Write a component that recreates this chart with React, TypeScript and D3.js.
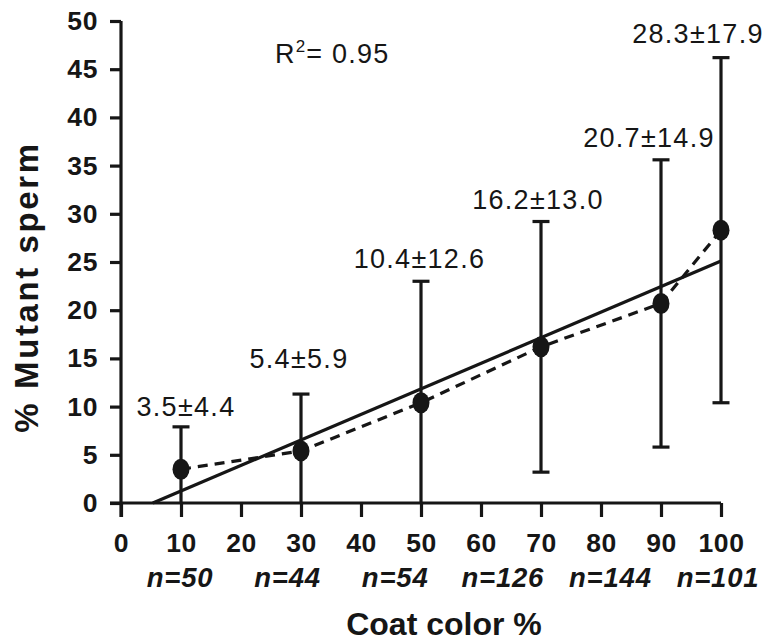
import React, { useEffect, useRef } from 'react'
import * as d3 from 'd3'

// values
const coatColor = [10, 30, 50, 70, 90, 100]
const meanSperm = [3.5, 5.4, 10.4, 16.2, 20.7, 28.3]
const sdSperm = [4.4, 5.9, 12.6, 13.0, 14.9, 17.9]
const groupN = ['n=50', 'n=44', 'n=54', 'n=126', 'n=144', 'n=101']
// linear fit drawn in the figure (start / end points)
const fitX = [5.3, 100]
const fitY = [0, 25.1]
const rSquared = '0.95'

const xTicks = d3.range(0, 101, 10)
const yTicks = d3.range(0, 51, 5)

// label placement tweaks (px): horizontal shift, gap above the upper cap
const labelDx = [5, -2, -1.5, -3, -12, -23]
const labelGap = [11, 26, 13, 13, 13, 15]

const W = 771
const H = 644
const ink = '#161616'
const font = '"Liberation Sans", Arial, Helvetica, sans-serif'

export default function App() {
  const ref = useRef<SVGSVGElement>(null)

  useEffect(() => {
    const svg = d3.select(ref.current)
    svg.selectAll('*').remove()

    const x = d3.scaleLinear().domain([0, 100]).range([121, 721])
    const y = d3.scaleLinear().domain([0, 50]).range([503, 21])
    const nPos = d3.scalePoint<string>().domain(groupN).range([180, 718])

    const g = svg.append('g').attr('font-family', font).attr('fill', ink)

    // axes
    const yAxis = g
      .append('g')
      .attr('transform', `translate(${x(0)},0)`)
      .call(d3.axisLeft(y).tickValues(yTicks).tickSize(11).tickSizeOuter(0).tickPadding(12))
    const xAxis = g
      .append('g')
      .attr('transform', `translate(0,${y(0)})`)
      .call(d3.axisBottom(x).tickValues(xTicks).tickSize(14).tickSizeOuter(0).tickPadding(16))
    ;[yAxis, xAxis].forEach((a) => {
      a.attr('font-family', font)
      a.selectAll('path, line').attr('stroke', ink).attr('stroke-width', 3.2)
      a.selectAll('text')
        .attr('fill', ink)
        .attr('font-size', 26.5)
        .attr('font-weight', 'bold')
        .attr('letter-spacing', 0.6)
    })
    yAxis.select('.domain').attr('d', `M0,${y(50)}V${y(0) + 14}`)
    xAxis.select('.domain').attr('d', `M${x(0) - 11},0H${x(100)}`)

    // n labels
    g.append('g')
      .selectAll('text')
      .data(groupN)
      .join('text')
      .attr('x', (d) => nPos(d)!)
      .attr('y', 587)
      .attr('text-anchor', 'middle')
      .attr('font-size', 27.5)
      .attr('font-weight', 'bold')
      .attr('font-style', 'italic')
      .attr('letter-spacing', 0.8)
      .text((d) => d)

    // axis titles
    g.append('text')
      .attr('x', 444)
      .attr('y', 635)
      .attr('text-anchor', 'middle')
      .attr('font-size', 32)
      .attr('font-weight', 'bold')
      .text('Coat color %')
    g.append('text')
      .attr('transform', `translate(38,287) rotate(-90)`)
      .attr('text-anchor', 'middle')
      .attr('font-size', 33)
      .attr('font-weight', 'bold')
      .attr('letter-spacing', 2.6)
      .text('% Mutant sperm')

    // fit line
    g.append('line')
      .attr('x1', x(fitX[0]))
      .attr('y1', y(fitY[0]))
      .attr('x2', x(fitX[1]))
      .attr('y2', y(fitY[1]))
      .attr('stroke', ink)
      .attr('stroke-width', 3.2)

    const pts = coatColor.map((c, i) => ({ c, m: meanSperm[i], sd: sdSperm[i], i }))

    // dashed line through means
    const line = d3
      .line<(typeof pts)[number]>()
      .x((d) => x(d.c))
      .y((d) => y(d.m))
    g.append('path')
      .attr('d', line(pts))
      .attr('fill', 'none')
      .attr('stroke', ink)
      .attr('stroke-width', 3.2)
      .attr('stroke-dasharray', '10 7')

    // error bars, clipped at 0
    const bars = g.append('g').attr('stroke', ink).attr('stroke-width', 3.2)
    pts.forEach((d) => {
      const hi = d.m + d.sd
      const lo = Math.max(0, d.m - d.sd)
      bars.append('line').attr('x1', x(d.c)).attr('x2', x(d.c)).attr('y1', y(hi)).attr('y2', y(lo))
      bars.append('line').attr('x1', x(d.c) - 8.5).attr('x2', x(d.c) + 8.5).attr('y1', y(hi)).attr('y2', y(hi))
      if (lo > 0) {
        bars.append('line').attr('x1', x(d.c) - 8.5).attr('x2', x(d.c) + 8.5).attr('y1', y(lo)).attr('y2', y(lo))
      }
    })

    // mean points
    g.append('g')
      .selectAll('ellipse')
      .data(pts)
      .join('ellipse')
      .attr('cx', (d) => x(d.c))
      .attr('cy', (d) => y(d.m))
      .attr('rx', 8.5)
      .attr('ry', 10.5)
      .attr('fill', ink)

    // mean ± sd labels
    g.append('g')
      .selectAll('text')
      .data(pts)
      .join('text')
      .attr('x', (d) => x(d.c) + labelDx[d.i])
      .attr('y', (d) => y(d.m + d.sd) - labelGap[d.i])
      .attr('text-anchor', 'middle')
      .attr('font-size', 27)
      .attr('letter-spacing', 1.3)
      .text((d) => `${d.m.toFixed(1)}±${d.sd.toFixed(1)}`)

    // R squared
    const r2 = g.append('text').attr('x', 275).attr('y', 63).attr('font-size', 27).attr('letter-spacing', 1.2)
    r2.append('tspan').text('R')
    r2.append('tspan').attr('font-size', 17).attr('dy', -11).text('2')
    r2.append('tspan').attr('dy', 11).text(`= ${rSquared}`)
  }, [])

  return (
    <svg
      ref={ref}
      width={W}
      height={H}
      style={{ position: 'absolute', left: 0, top: 0, background: '#fff' }}
    />
  )
}
